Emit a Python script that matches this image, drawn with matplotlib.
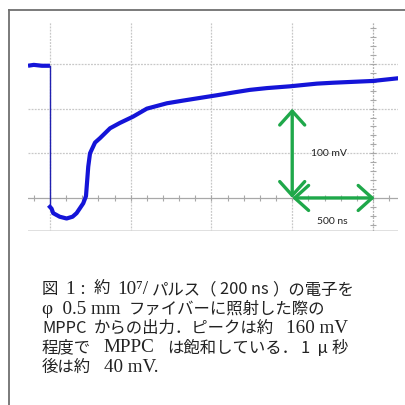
import matplotlib
matplotlib.use("Agg")
import matplotlib.pyplot as plt
from matplotlib.patches import FancyArrowPatch
from matplotlib.lines import Line2D
import numpy as np
import re

# oscilloscope trace (time in ns, signal in mV)
t_pre = [-136, -100, -50, 0]
v_pre = [-2, -1, -2, -2]
t_post = [0, 10, 20, 60, 103, 140, 165, 206, 223, 237, 248, 279, 310, 372, 433, 514,
          600, 724, 824, 929, 1034, 1133, 1238, 1343, 1486, 1653, 1752, 2000, 2155]
v_post = [-160, -162, -167, -171, -173, -171, -167, -156, -148, -115, -100, -88, -83, -72,
          -66, -59, -50, -44, -41, -38, -35, -32, -29, -27, -25, -22, -21, -19, -16]

caption = [
    "図 1 : 約 10⁷/パルス（200 ns）の電子を",
    "φ  0.5 mm ファイバーに照射した際の",
    "MPPC からの出力．ピークは約  160 mV",
    "程度で  MPPC  は飽和している．1  μ秒",
    "後は約  40 mV.",
]

W, H = 406, 405
fig = plt.figure(figsize=(W / 100, H / 100), dpi=100)
fig.patch.set_facecolor("white")

# frame (top and left only)
fig.add_artist(Line2D([9 / W, 1], [1 - 9.5 / H, 1 - 9.5 / H], color="#707070", lw=1.3))
fig.add_artist(Line2D([9.5 / W, 9.5 / W], [0, 1 - 9.5 / H], color="#707070", lw=1.3))

ax = fig.add_axes([28 / W, 1 - 231 / H, (398 - 28) / W, (231 - 22) / H])
ax.set_xlim(-136, 2155)
ax.set_ylim(-187, 47)
for s in ax.spines.values():
    s.set_visible(False)
ax.set_xticks([])
ax.set_yticks([])

grid_kw = dict(color="#c8c8c8", lw=0.9, ls=(0, (1.5, 1)), zorder=1)
for t in [0, 500, 1000, 1500]:
    ax.axvline(t, **grid_kw)
for v in [0, -50, -100]:
    ax.axhline(v, **grid_kw)
ax.axhline(-187, color="#dadada", lw=1.2, zorder=1)

# center axes with small tick marks
ax.axhline(-150, color="#a8a8a8", lw=0.9, zorder=1)
ax.axvline(2000, color="#b0b0b0", lw=0.9, ls=(0, (1.5, 1)), zorder=1)
xt = np.arange(-100, 2200, 100)
ax.plot(xt, np.full(len(xt), -150), ls="none", marker="|", ms=5, mew=0.8, color="#a8a8a8", zorder=1)
yt = np.arange(-180, 50, 10)
ax.plot(np.full(len(yt), 2000), yt, ls="none", marker="_", ms=5, mew=0.8, color="#a8a8a8", zorder=1)

# trace
ax.plot(t_pre, v_pre, color="#1414d8", lw=3.0, solid_capstyle="butt", zorder=3)
ax.plot([t_pre[-1], t_post[0]], [v_pre[-1], v_post[0]], color="#2020b0", lw=1.0, zorder=3)
ax.plot(t_post, v_post, color="#1414d8", lw=3.0, solid_joinstyle="round", zorder=3)

# scale arrows
green = "#1fa84a"
astyle = "<->,head_length=0.5,head_width=0.45"
ax.add_patch(FancyArrowPatch((1500, -150), (1500, -50), arrowstyle=astyle, mutation_scale=20,
                             color=green, lw=2.4, shrinkA=0, shrinkB=0, zorder=4))
ax.add_patch(FancyArrowPatch((1500, -150), (2010, -150), arrowstyle=astyle, mutation_scale=20,
                             color=green, lw=2.4, shrinkA=0, shrinkB=0, zorder=4))
ax.text(1725, -100, "100 mV", fontsize=7.5, family="Lato", color="#222222", ha="center", va="center")
ax.text(1750, -176, "500 ns", fontsize=7.5, family="Lato", color="#222222", ha="center", va="center")

# caption: latin runs in a serif face, japanese runs in the CJK face
renderer = fig.canvas.get_renderer()
latin_chars = " -~φμ⁷"
lat_size, cjk_size = 13.8, 11.8
baselines = [294, 313.5, 333, 352.5, 372]
for line, yb in zip(caption, baselines):
    x = 42.0
    for seg in re.findall(r"[ -~φμ⁷]+|[^ -~φμ⁷]+", line):
        is_lat = seg[0] in latin_chars
        size = lat_size if is_lat else cjk_size
        px = size * 100 / 72
        lead = len(seg) - len(seg.lstrip(" "))
        trail = len(seg) - len(seg.rstrip(" "))
        x += lead * 0.25 * px
        body = seg.strip(" ")
        if body:
            fam = ["Liberation Serif", "DejaVu Serif"] if is_lat else ["Noto Sans CJK JP"]
            style = "italic" if body == "μ" else "normal"
            t = fig.text(x / W, 1 - yb / H, body, fontsize=size, family=fam, style=style,
                         color="#222222", ha="left", va="baseline")
            x += t.get_window_extent(renderer).width + 3.0
        x += trail * 0.25 * px

fig.savefig("out.png", dpi=100)
